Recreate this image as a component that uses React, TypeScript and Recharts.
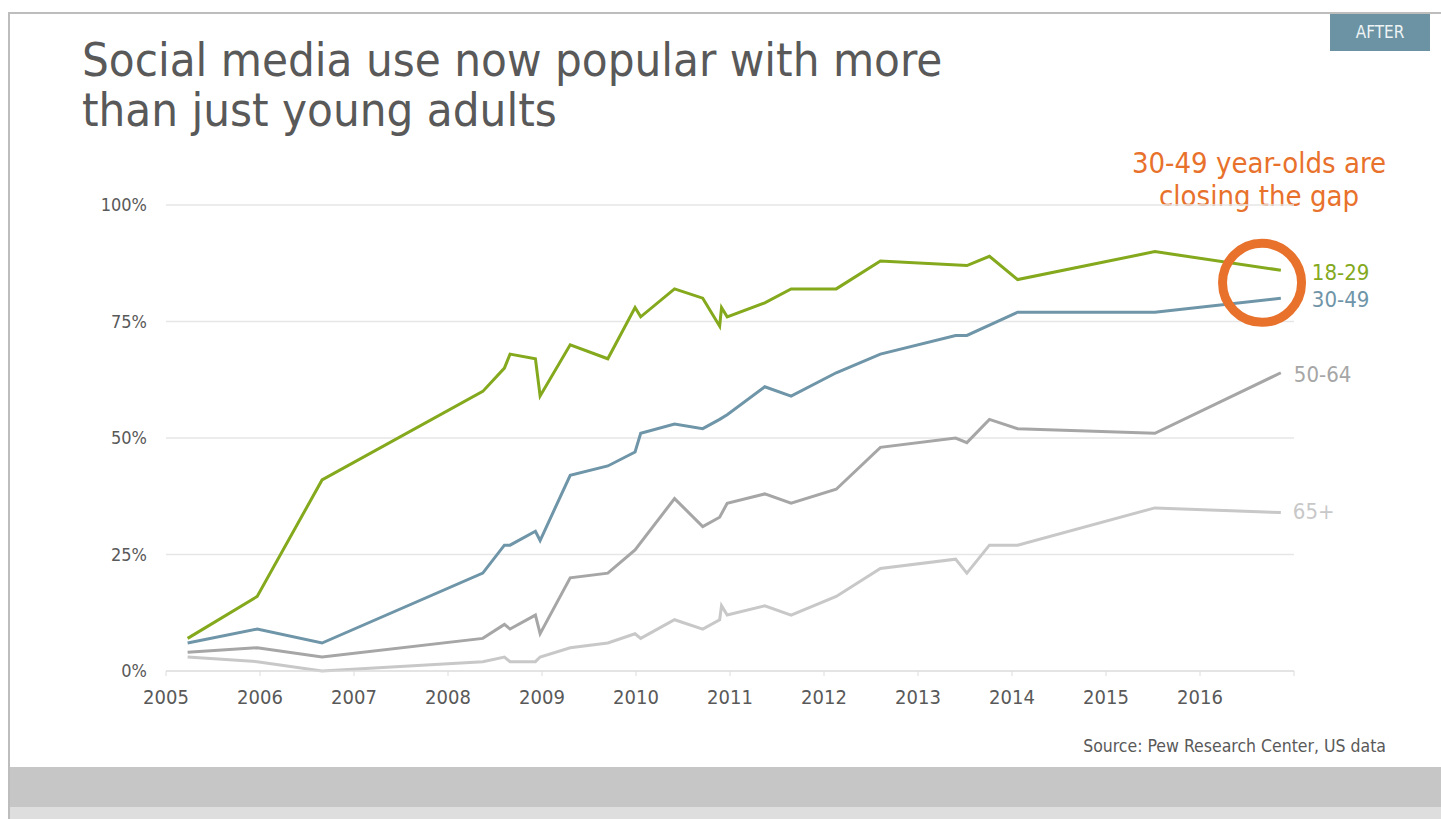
import React from "react";
import {
  LineChart,
  Line,
  XAxis,
  YAxis,
  CartesianGrid,
  ReferenceDot,
} from "recharts";

// survey dates (decimal years) and share of adults using social media, %
const years = [
  2005.23, 2005.97, 2006.66, 2008.37, 2008.6, 2008.66, 2008.93, 2008.98, 2009.3, 2009.7,
  2009.99, 2010.05, 2010.41, 2010.71, 2010.89, 2010.91, 2010.97, 2011.37, 2011.65, 2012.13,
  2012.6, 2013.4, 2013.52, 2013.76, 2014.06, 2015.52, 2016.86,
];
const age18to29 = [
  7, 16, 41, 60, 65, 68, 67, 59, 70, 67, 78, 76, 82, 80, 74, 78, 76, 79, 82, 82, 88, null, 87, 89, 84,
  90, 86,
];
const age30to49 = [
  6, 9, 6, 21, 27, 27, 30, 28, 42, 44, 47, 51, 53, 52, 54, null, 55, 61, 59, 64, 68, 72, 72, null, 77,
  77, 80,
];
const age50to64 = [
  4, 5, 3, 7, 10, 9, 12, 8, 20, 21, 26, null, 37, 31, 33, null, 36, 38, 36, 39, 48, 50, 49, 54, 52,
  51, 64,
];
const age65plus = [
  3, 2, 0, 2, 3, 2, 2, 3, 5, 6, 8, 7, 11, 9, 11, 14, 12, 14, 12, 16, 22, 24, 21, 27, 27, 35, 34,
];

const xTicks = [2005, 2006, 2007, 2008, 2009, 2010, 2011, 2012, 2013, 2014, 2015, 2016, 2017];
const yTicks = [0, 25, 50, 75, 100];

const FONT = '"DejaVu Sans Condensed", Tahoma, "Noto Sans", sans-serif';
const TEXT = "#595959";
const ORANGE = "#e8712b";

const SERIES = [
  { key: "a", name: "18-29", values: age18to29, color: "#84a91d", dx: 31, dy: 2 },
  { key: "b", name: "30-49", values: age30to49, color: "#6f95a8", dx: 31, dy: 1 },
  { key: "c", name: "50-64", values: age50to64, color: "#a6a6a6", dx: 13, dy: 2 },
  { key: "d", name: "65+", values: age65plus, color: "#c8c8c8", dx: 12, dy: -1 },
];

const data = years.map((year, i) => {
  const row: Record<string, number | null> = { year };
  SERIES.forEach((s) => {
    row[s.key] = s.values[i];
  });
  return row;
});

function endLabel(name: string, color: string, dx: number, dy: number) {
  return (props: any) => {
    if (props.index !== years.length - 1) return null;
    return (
      <text
        x={props.x + dx}
        y={props.y + dy}
        fill={color}
        fontSize={22}
        fontFamily={FONT}
        dominantBaseline="central"
      >
        {name}
      </text>
    );
  };
}

export default function App() {
  return (
    <div style={{ position: "absolute", left: 0, top: 0, width: 1441, height: 819, background: "#fff", overflow: "hidden", fontFamily: FONT }}>
      <div style={{ position: "absolute", left: 8, top: 12, right: 0, height: 2, background: "#bdbdbd" }} />
      <div style={{ position: "absolute", left: 8, top: 12, width: 2, bottom: 0, background: "#bdbdbd" }} />
      <div style={{ position: "absolute", left: 10, top: 767, right: 0, height: 40, background: "#c6c6c6" }} />
      <div style={{ position: "absolute", left: 10, top: 807, right: 0, bottom: 0, background: "#dedede" }} />
      <div
        style={{
          position: "absolute",
          left: 1330,
          top: 14,
          width: 100,
          height: 37,
          background: "#6b93a3",
          color: "#eef3f5",
          fontSize: 17,
          lineHeight: "37px",
          textAlign: "center",
        }}
      >
        AFTER
      </div>
      <div
        style={{
          position: "absolute",
          left: 82,
          top: 35,
          fontSize: 47,
          lineHeight: "50px",
          color: TEXT,
          whiteSpace: "nowrap",
        }}
      >
        Social media use now popular with more
        <br />
        than just young adults
      </div>
      <div
        style={{
          position: "absolute",
          left: 1059,
          width: 400,
          top: 147,
          fontSize: 29,
          lineHeight: "33px",
          color: ORANGE,
          textAlign: "center",
        }}
      >
        30-49 year-olds are
        <br />
        closing the gap
      </div>
      <div
        style={{
          position: "absolute",
          right: 1441 - 1386,
          top: 736,
          fontSize: 17.5,
          color: TEXT,
          whiteSpace: "nowrap",
        }}
      >
        Source: Pew Research Center, US data
      </div>

      <div style={{ position: "absolute", left: 0, top: 0 }}>
        <LineChart
          width={1441}
          height={819}
          data={data}
          margin={{ top: 205, right: 147, bottom: 118, left: 106 }}
        >
          <CartesianGrid horizontal vertical={false} stroke="#e6e6e6" strokeWidth={1.5} />
          <XAxis
            dataKey="year"
            type="number"
            domain={[2005, 2017]}
            ticks={xTicks}
            tickFormatter={(v: number) => (v === 2017 ? "" : String(v))}
            interval={0}
            height={30}
            stroke="#dcdcdc"
            tickSize={5}
            tickMargin={14}
            tick={{ fill: TEXT, fontSize: 20, fontFamily: FONT }}
          />
          <YAxis
            type="number"
            domain={[0, 100]}
            ticks={yTicks}
            tickFormatter={(v: number) => `${v}%`}
            width={60}
            axisLine={false}
            tickLine={false}
            tickSize={0}
            tickMargin={19}
            tick={{ fill: TEXT, fontSize: 18, fontFamily: FONT }}
          />
          {SERIES.slice()
            .reverse()
            .map((s) => (
              <Line
                key={s.key}
                dataKey={s.key}
                name={s.name}
                type="linear"
                stroke={s.color}
                strokeWidth={3}
                dot={false}
                activeDot={false}
                connectNulls
                isAnimationActive={false}
                label={endLabel(s.name, s.color, s.dx, s.dy)}
              />
            ))}
          <ReferenceDot
            x={2016.66}
            y={83.3}
            r={39.5}
            fill="none"
            stroke={ORANGE}
            strokeWidth={9}
            ifOverflow="visible"
          />
        </LineChart>
      </div>
    </div>
  );
}
